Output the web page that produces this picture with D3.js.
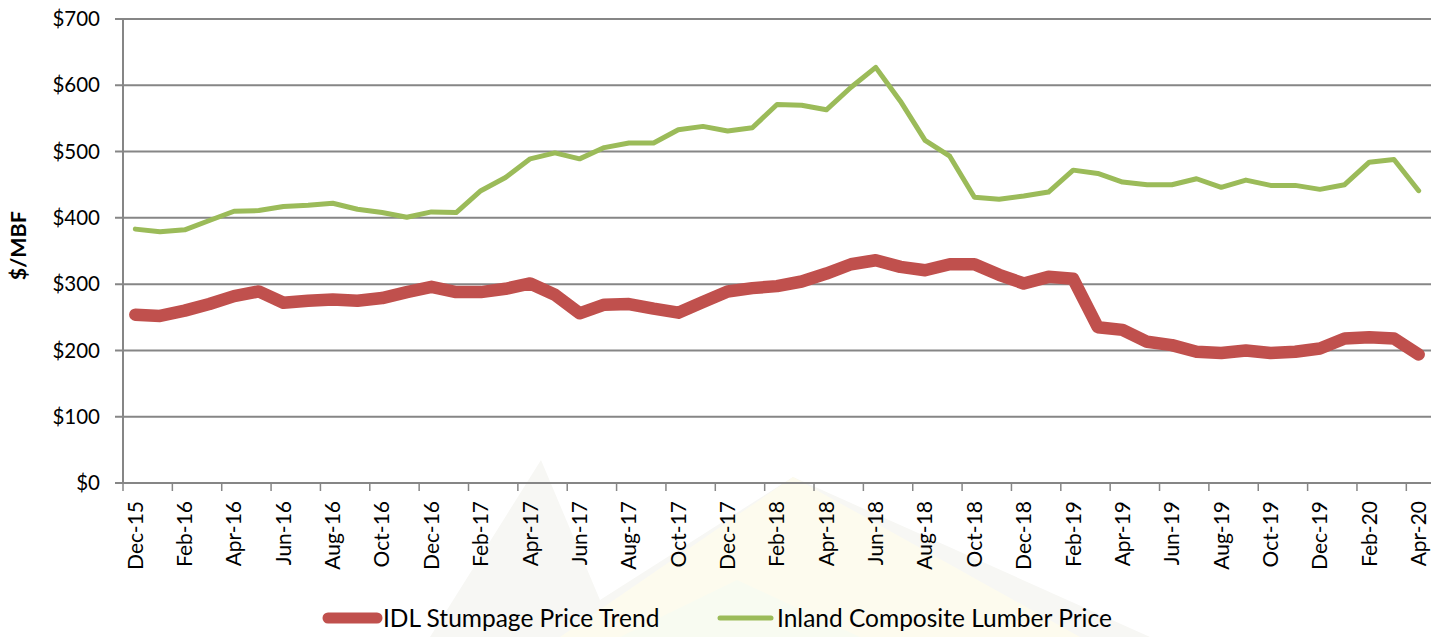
<!DOCTYPE html>
<html>
<head>
<meta charset="utf-8">
<script src="https://cdn.jsdelivr.net/npm/d3@7"></script>
<style>
  body { margin: 0; background: #fff; }
  text { font-family: Lato, "Open Sans", sans-serif; fill: #000; }
</style>
</head>
<body>
<svg id="chart" width="1446" height="637"></svg>
<script>
// monthly, Dec-15 .. Apr-20
var months = ["Dec-15","Jan-16","Feb-16","Mar-16","Apr-16","May-16","Jun-16","Jul-16","Aug-16","Sep-16","Oct-16","Nov-16",
  "Dec-16","Jan-17","Feb-17","Mar-17","Apr-17","May-17","Jun-17","Jul-17","Aug-17","Sep-17","Oct-17","Nov-17",
  "Dec-17","Jan-18","Feb-18","Mar-18","Apr-18","May-18","Jun-18","Jul-18","Aug-18","Sep-18","Oct-18","Nov-18",
  "Dec-18","Jan-19","Feb-19","Mar-19","Apr-19","May-19","Jun-19","Jul-19","Aug-19","Sep-19","Oct-19","Nov-19",
  "Dec-19","Jan-20","Feb-20","Mar-20","Apr-20"];

var stumpage = [254, 252, 260, 270, 282, 289, 272, 275, 277, 275, 279, 288,
  296, 288, 288, 293, 301, 284, 256, 269, 270, 263, 257, 273,
  289, 294, 297, 304, 316, 330, 336, 326, 321, 330, 330, 314,
  301, 311, 308, 235, 231, 213, 208, 198, 196, 200, 196, 198,
  203, 218, 220, 218, 194];

var lumber = [383, 379, 382, 396, 410, 411, 417, 419, 422, 413, 408, 401,
  409, 408, 441, 461, 489, 498, 489, 506, 513, 513, 533, 538,
  531, 536, 571, 570, 563, 597, 627, 576, 517, 493, 431, 428,
  433, 439, 472, 467, 454, 450, 450, 459, 446, 457, 449, 449,
  443, 450, 484, 488, 441];

var yTicks = [0, 100, 200, 300, 400, 500, 600, 700];

var seriesNames = ["IDL Stumpage Price Trend", "Inland Composite Lumber Price"];

var svg = d3.select("#chart"),
    margin = {top: 19, right: 15, bottom: 154, left: 123},
    width = 1431 - margin.left,
    height = 483 - margin.top;

// faint background watermark (mountains)
var wm = svg.append("g");
wm.append("polygon").attr("points", "430,637 541,460 600,600 793,477 1150,637").attr("fill", "#f7f7f4");
wm.append("polygon").attr("points", "560,637 793,477 1080,637").attr("fill", "#fdfbee");
wm.append("polygon").attr("points", "620,637 737,580 860,637").attr("fill", "#f8fbf1");

var g = svg.append("g").attr("transform", "translate(" + margin.left + "," + margin.top + ")");

var x = d3.scaleBand().domain(months).range([0, width]),
    y = d3.scaleLinear().domain([0, 700]).range([height, 0]);

var gridColor = "#868686";

// gridlines
g.selectAll(".grid")
  .data(yTicks)
  .enter().append("line")
    .attr("x1", -8).attr("x2", width)
    .attr("y1", function(d) { return y(d); })
    .attr("y2", function(d) { return y(d); })
    .attr("stroke", gridColor)
    .attr("stroke-width", 2);

// y axis line
g.append("line")
  .attr("x1", 0).attr("x2", 0)
  .attr("y1", 0).attr("y2", height)
  .attr("stroke", gridColor).attr("stroke-width", 2);

// y labels
g.selectAll(".ylab")
  .data(yTicks)
  .enter().append("text")
    .attr("x", -23)
    .attr("y", function(d) { return y(d); })
    .attr("dy", "0.35em")
    .attr("text-anchor", "end")
    .style("font-size", "20.5px")
    .text(function(d) { return "$" + d; });

// y title
g.append("text")
  .attr("transform", "translate(" + (-97) + "," + (y(358)) + ") rotate(-90)")
  .attr("text-anchor", "middle")
  .style("font-size", "21.5px")
  .style("font-weight", "bold")
  .text("$/MBF");

// x ticks every 2 months at category boundaries
var tickIdx = d3.range(0, months.length + 1, 2);
g.selectAll(".xtick")
  .data(tickIdx)
  .enter().append("line")
    .attr("x1", function(i) { return i * x.step(); })
    .attr("x2", function(i) { return i * x.step(); })
    .attr("y1", height).attr("y2", height + 8)
    .attr("stroke", gridColor).attr("stroke-width", 1.5);

// x labels
g.selectAll(".xlab")
  .data(months.filter(function(m, i) { return i % 2 === 0; }))
  .enter().append("text")
    .attr("transform", function(d) {
      return "translate(" + (x(d) + x.bandwidth() / 2) + "," + (height + 18) + ") rotate(-90)";
    })
    .attr("dy", "0.35em")
    .attr("text-anchor", "end")
    .style("font-size", "21px")
    .text(function(d) { return d; });

var line = d3.line()
  .x(function(d, i) { return x(months[i]) + x.bandwidth() / 2; })
  .y(function(d) { return y(d); });

g.append("path")
  .datum(lumber)
  .attr("fill", "none")
  .attr("stroke", "#9BBB59")
  .attr("stroke-width", 5)
  .attr("stroke-linejoin", "round")
  .attr("stroke-linecap", "round")
  .attr("d", line);

g.append("path")
  .datum(stumpage)
  .attr("fill", "none")
  .attr("stroke", "#C0504D")
  .attr("stroke-width", 12.5)
  .attr("stroke-linejoin", "round")
  .attr("stroke-linecap", "round")
  .attr("d", line);

// legend
var legend = svg.append("g").attr("transform", "translate(0,618)");
var legendItems = [
  {name: seriesNames[0], color: "#C0504D", w: 11, x: 328, len: 49},
  {name: seriesNames[1], color: "#9BBB59", w: 5, x: 720, len: 51}
];
legendItems.forEach(function(it) {
  legend.append("line")
    .attr("x1", it.x).attr("x2", it.x + it.len)
    .attr("y1", 0).attr("y2", 0)
    .attr("stroke", it.color).attr("stroke-width", it.w)
    .attr("stroke-linecap", "round");
  legend.append("text")
    .attr("x", it.x + it.len + 6)
    .attr("dy", "0.35em")
    .style("font-size", "24.5px")
    .text(it.name);
});
</script>
</body>
</html>
